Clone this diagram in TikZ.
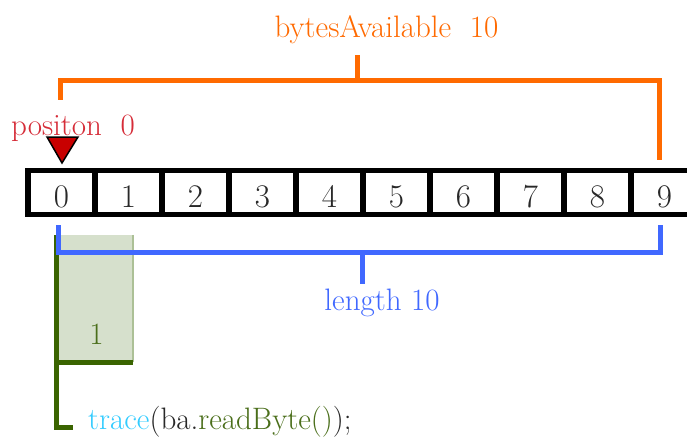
\documentclass[tikz,border=0pt]{standalone}
\definecolor{orangeL}{RGB}{255,106,0}
\definecolor{blueL}{RGB}{64,104,255}
\definecolor{greenL}{RGB}{58,100,0}
\definecolor{greenT}{RGB}{74,110,26}
\definecolor{boxFill}{RGB}{214,224,204}
\definecolor{boxEdge}{RGB}{172,192,150}
\definecolor{redT}{RGB}{214,44,56}
\definecolor{redF}{RGB}{200,0,0}
\definecolor{cyanT}{RGB}{51,204,255}
\definecolor{darkT}{RGB}{40,40,40}
\begin{document}
\begin{tikzpicture}[x=1pt,y=-1pt,
  font=\fontsize{31}{36}\selectfont,
  cell/.style={draw=black, line width=5.5pt, minimum width=67pt, minimum height=44pt,
    inner sep=0pt, text height=30pt, text depth=0pt, text=darkT,
    font=\fontsize{33}{38}\selectfont},
  obr/.style={draw=orangeL, line width=5pt},
  bbr/.style={draw=blueL, line width=5pt},
  gbr/.style={draw=greenL, line width=5pt}]
\useasboundingbox (0,0) rectangle (687,441);
\fill[white] (0,0) rectangle (687,441);

% green box and bracket (behind blue)
\node[fill=boxFill, minimum width=77pt, minimum height=127pt, inner sep=0pt] (gbox) at (94.5,298.5) {};
\draw[boxEdge, line width=2.5pt] (gbox.north east) -- (gbox.south east);
\node[text=greenT, anchor=base] (one) at (96.5,344) {1};
\coordinate (gtop) at (56.5,235);
\coordinate (gmid) at (56.5,362);
\coordinate (gmidr) at (133,362);
\coordinate (gbot) at (56.5,427);
\coordinate (gend) at (73,427);
\draw[gbr] (gtop) -- (gbot) -- (gend);
\draw[gbr] (gmid) -- (gmidr);
\node[anchor=base west, inner sep=0pt] (trace) at (88,429)
  {\textcolor{cyanT}{trace}\textcolor{darkT}{(ba.}\textcolor{greenT}{readByte()}\textcolor{darkT}{);}};

% cells
\foreach \i in {0,...,9}{
  \node[cell] (c\i) at ({61.5+67*\i},192.5) {\i};
}

% position marker
\draw[fill=redF, draw=black, line width=1.5pt, line join=miter]
  (47,137) -- (78,137) -- (62,163) -- cycle;
\node[text=redT, anchor=base west, inner sep=0pt] (pos) at (11,135) {positon\ \ 0};

% orange bracket
\coordinate (oL) at (60.5,100);
\coordinate (oLt) at (60.5,81);
\coordinate (oRt) at (659,81);
\coordinate (oR) at (659,160);
\coordinate (oS) at (357,81);
\coordinate (oSt) at (357,55);
\draw[obr, line join=miter] (oL) -- (oLt) -- (oRt) -- (oR);
\draw[obr] (oS) -- (oSt);
\node[text=orangeL, anchor=base] (bytes) at (386.5,38) {bytesAvailable\ \ 10};

% blue bracket
\coordinate (bL) at (58.5,225);
\coordinate (bLb) at (58.5,252);
\coordinate (bRb) at (660,252);
\coordinate (bR) at (660,225);
\coordinate (bS) at (362,252);
\coordinate (bSb) at (362,284);
\draw[bbr, line join=miter] (bL) -- (bLb) -- (bRb) -- (bR);
\draw[bbr] (bS) -- (bSb);
\node[text=blueL, anchor=base] (len) at (382,310) {length 10};
\end{tikzpicture}
\end{document}
